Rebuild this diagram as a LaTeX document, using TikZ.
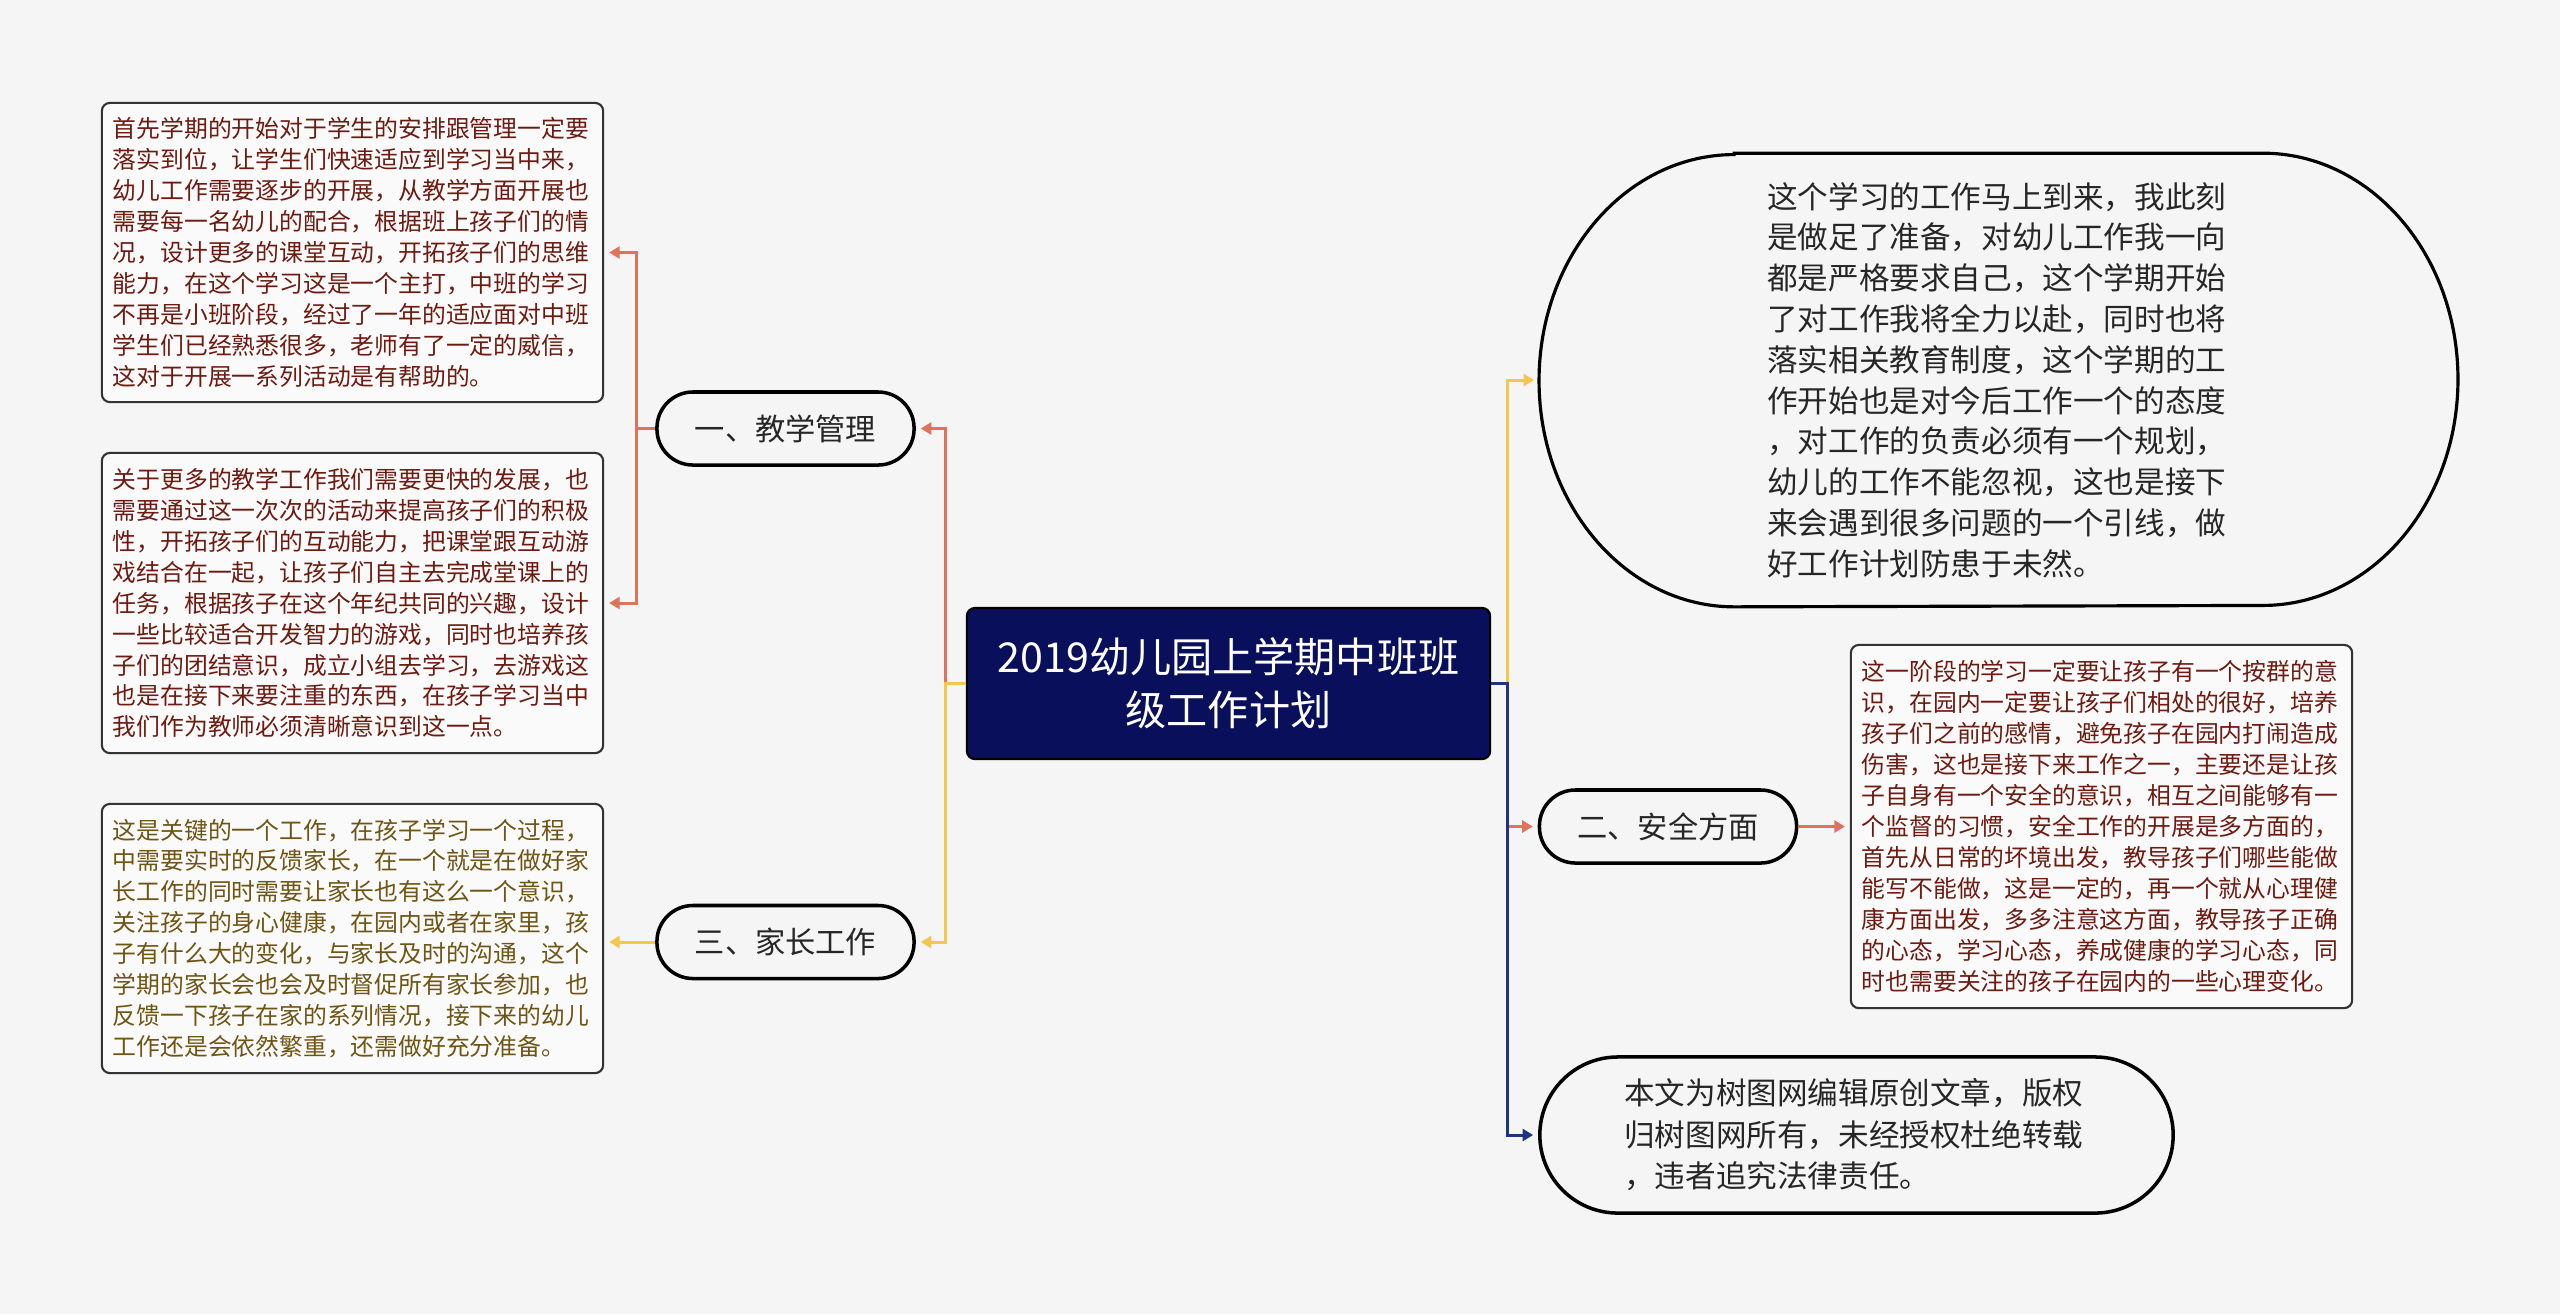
\documentclass[tikz,border=0pt]{standalone}
\usepackage{fontspec}
\setmainfont{Noto Sans CJK SC}
\usetikzlibrary{arrows.meta}
\definecolor{bg}{HTML}{F5F5F5}
\definecolor{cred}{HTML}{E0715A}
\definecolor{cyel}{HTML}{F5C64E}
\definecolor{cnavy}{HTML}{1E3480}
\definecolor{cnode}{HTML}{0A0F5C}
\definecolor{tred}{HTML}{6E1A10}
\definecolor{tgold}{HTML}{6E5514}
\begin{document}
\begin{tikzpicture}[x=0.01cm,y=-0.01cm,
 tbox/.style={draw=black!80, line width=0.6pt, rounded corners=0.08cm, fill=white!50!bg,
   align=left, inner sep=0pt, minimum width=5.01cm, text width=4.79cm,
   font=\fontsize{6.77pt}{8.8pt}\selectfont, text=tred},
 branch/.style={draw=black, line width=1pt, fill=bg, rounded corners=0.36cm,
   minimum width=2.57cm, minimum height=0.73cm, inner sep=0pt, text=black!85,
   font=\fontsize{8.6pt}{10pt}\selectfont},
 conn/.style={line width=0.85pt, -{Triangle[length=3pt,width=3.4pt]}, shorten >=1.4pt},
]
\fill[bg] (0,0) rectangle (2560,1314);
\useasboundingbox (0,0) rectangle (2560,1314);

% central node
\node[draw=black, line width=0.6pt, fill=cnode, rounded corners=0.08cm,
  minimum width=5.23cm, minimum height=1.51cm, text=white, align=center,
  font=\fontsize{11.7pt}{15pt}\selectfont] (c) at (1228.5,683.5)
  {2019幼儿园上学期中班班\\级工作计划};

% left branches
\node[branch] (b1) at (785.5,428.5) {一、教学管理};
\node[branch] (b3) at (785.5,942) {三、家长工作};

\node[tbox, minimum height=2.99cm] (t1) at (352.5,252.5)
{首先学期的开始对于学生的安排跟管理一定要\\
落实到位，让学生们快速适应到学习当中来，\\
幼儿工作需要逐步的开展，从教学方面开展也\\
需要每一名幼儿的配合，根据班上孩子们的情\\
况，设计更多的课堂互动，开拓孩子们的思维\\
能力，在这个学习这是一个主打，中班的学习\\
不再是小班阶段，经过了一年的适应面对中班\\
学生们已经熟悉很多，老师有了一定的威信，\\
这对于开展一系列活动是有帮助的。};

\node[tbox, minimum height=3.00cm] (t2) at (352.5,603)
{关于更多的教学工作我们需要更快的发展，也\\
需要通过这一次次的活动来提高孩子们的积极\\
性，开拓孩子们的互动能力，把课堂跟互动游\\
戏结合在一起，让孩子们自主去完成堂课上的\\
任务，根据孩子在这个年纪共同的兴趣，设计\\
一些比较适合开发智力的游戏，同时也培养孩\\
子们的团结意识，成立小组去学习，去游戏这\\
也是在接下来要注重的东西，在孩子学习当中\\
我们作为教师必须清晰意识到这一点。};

\node[tbox, minimum height=2.69cm, text=tgold] (t3) at (352.5,938.5)
{这是关键的一个工作，在孩子学习一个过程，\\
中需要实时的反馈家长，在一个就是在做好家\\
长工作的同时需要让家长也有这么一个意识，\\
关注孩子的身心健康，在园内或者在家里，孩\\
子有什么大的变化，与家长及时的沟通，这个\\
学期的家长会也会及时督促所有家长参加，也\\
反馈一下孩子在家的系列情况，接下来的幼儿\\
工作还是会依然繁重，还需做好充分准备。};

% right branches
\node[minimum width=9.17cm, minimum height=4.52cm, inner sep=0pt, align=left,
  text width=4.62cm, text=black!85, font=\fontsize{8.7pt}{11.6pt}\selectfont]
  (ell) at (1998.5,380)
{这个学习的工作马上到来，我此刻\\
是做足了准备，对幼儿工作我一向\\
都是严格要求自己，这个学期开始\\
了对工作我将全力以赴，同时也将\\
落实相关教育制度，这个学期的工\\
作开始也是对今后工作一个的态度\\
，对工作的负责必须有一个规划，\\
幼儿的工作不能忽视，这也是接下\\
来会遇到很多问题的一个引线，做\\
好工作计划防患于未然。};
\draw[line width=0.9pt] ([xshift=1.95cm]ell.north west) -- ([xshift=-1.95cm]ell.north east)
  arc[start angle=90, end angle=-90, x radius=1.95cm, y radius=2.26cm]
  -- ([xshift=1.95cm]ell.south west)
  arc[start angle=270, end angle=90, x radius=1.95cm, y radius=2.26cm] -- cycle;

\node[branch] (b2) at (1668,826.5) {二、安全方面};

\node[tbox, minimum height=3.63cm] (t4) at (2101.5,826.5)
{这一阶段的学习一定要让孩子有一个按群的意\\
识，在园内一定要让孩子们相处的很好，培养\\
孩子们之前的感情，避免孩子在园内打闹造成\\
伤害，这也是接下来工作之一，主要还是让孩\\
子自身有一个安全的意识，相互之间能够有一\\
个监督的习惯，安全工作的开展是多方面的，\\
首先从日常的坏境出发，教导孩子们哪些能做\\
能写不能做，这是一定的，再一个就从心理健\\
康方面出发，多多注意这方面，教导孩子正确\\
的心态，学习心态，养成健康的学习心态，同\\
时也需要关注的孩子在园内的一些心理变化。};

\node[draw=black, line width=1pt, fill=bg, rounded corners=0.78cm,
  minimum width=6.33cm, minimum height=1.56cm, inner sep=0pt, align=left,
  text width=4.64cm, text=black!85, font=\fontsize{8.7pt}{11.8pt}\selectfont]
  (last) at (1856.5,1135)
{本文为树图网编辑原创文章，版权\\
归树图网所有，未经授权杜绝转载\\
，违者追究法律责任。};

% connectors left
\draw[conn, cred] (c.west) -- ++(-20,0) |- (b1.east);
\draw[conn, cyel] (c.west) -- ++(-20,0) |- (b3.east);
\draw[conn, cred] (b1.west) -- ++(-19,0) |- (t1.east);
\draw[conn, cred] (b1.west) -- ++(-19,0) |- (t2.east);
\draw[conn, cyel] (b3.west) -- (b3.west -| t3.east);

% connectors right
\draw[conn, cyel] (c.east) -- ++(16,0) |- (ell.west);
\draw[conn, cred] (c.east) -- ++(16,0) |- (b2.west);
\draw[conn, cnavy] (c.east) -- ++(16,0) |- (last.west);
\draw[conn, cred] (b2.east) -- (t4.west);
\end{tikzpicture}
\end{document}
